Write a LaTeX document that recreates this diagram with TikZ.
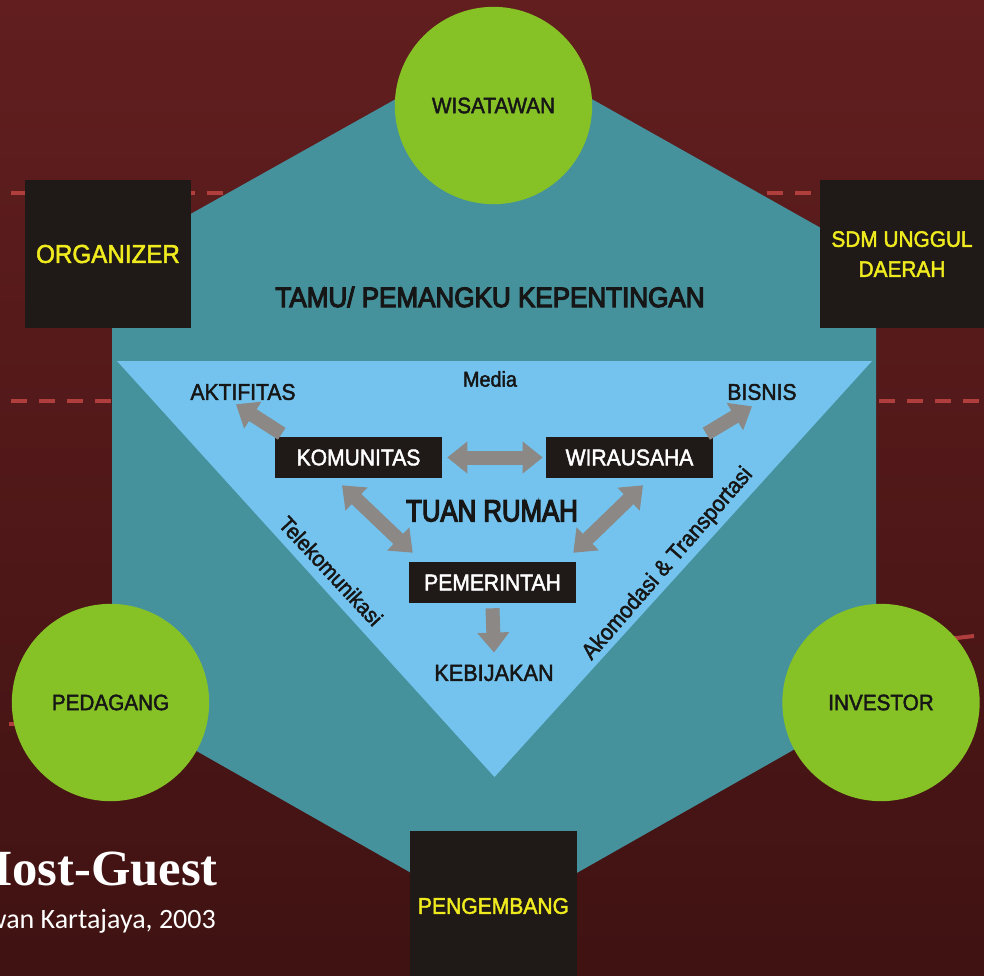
\documentclass[tikz,border=0pt]{standalone}
\usepackage{fontspec}
\setmainfont{Liberation Sans}[FakeStretch=0.93, FakeBold=2]
\newfontfamily\heavyf{Liberation Sans}[FakeStretch=0.93, FakeBold=4]
\newfontfamily\narrowf{Liberation Sans}[FakeStretch=0.84, FakeBold=4]
\newfontfamily\titlefont{Liberation Serif}
\newfontfamily\subfont{Carlito}
\usetikzlibrary{arrows.meta,shapes.geometric}
\definecolor{bgtop}{RGB}{98,30,31}
\definecolor{bgbot}{RGB}{64,18,18}
\definecolor{hexteal}{RGB}{69,146,157}
\definecolor{triblue}{RGB}{115,195,238}
\definecolor{leafgreen}{RGB}{134,194,38}
\definecolor{boxblack}{RGB}{31,26,23}
\definecolor{textyellow}{RGB}{240,235,30}
\definecolor{arrowgray}{RGB}{140,136,134}
\definecolor{dashred}{RGB}{176,62,60}
\definecolor{labeltext}{RGB}{22,22,22}
\newcommand\fsz[2]{\fontsize{#1}{#2}\selectfont}
\begin{document}
\begin{tikzpicture}[x=0.75pt,y=-0.75pt,
  circ/.style={circle, fill=leafgreen, minimum size=148pt, inner sep=0pt, text=labeltext, font=\fsz{16.7}{20}},
  outbox/.style={rectangle, fill=boxblack, inner sep=0pt, text=textyellow, align=center},
  inbox/.style={rectangle, fill=boxblack, minimum width=125.25pt, minimum height=30.75pt, inner sep=0pt, text=white, font=\fsz{17}{20}},
  lbl/.style={inner sep=0pt, text=labeltext},
  dbl/.style={draw=arrowgray, line width=10.5pt, {Triangle[width=23pt,length=15pt]}-{Triangle[width=23pt,length=15pt]}},
  sgl/.style={draw=arrowgray, line width=10.5pt, -{Triangle[width=23pt,length=15pt]}},
  reddash/.style={draw=dashred, line width=3pt, dash pattern=on 12pt off 9pt}
]
\useasboundingbox (0,0) rectangle (984,975);
\clip (0,0) rectangle (984,975);
\shade[top color=bgtop,bottom color=bgbot] (0,0) rectangle (984,975);
% guide lines
\draw[reddash] (11,193) -- (984,193);
\draw[reddash] (11,401) -- (984,401);
\draw[reddash] (9,724) -- (40,724);
\draw[dashred,line width=3pt] (930,641) -- (974,636);
% hexagon and triangle
\fill[hexteal] (494,44) -- (876,259) -- (876,703) -- (494,920) -- (112,703) -- (112,258) -- cycle;
\fill[triblue] (117,361) -- (872,361) -- (494.5,777) -- cycle;
% outer boxes
\node[outbox, minimum width=124.5pt, minimum height=111pt, font=\fsz{19.5}{22}] (org) at (108,254) {ORGANIZER};
\node[outbox, minimum width=123pt, minimum height=111pt, font=\fsz{16.8}{22.5}] (sdm) at (902,254) {SDM UNGGUL\\DAERAH};
\node[outbox, minimum width=125.25pt, minimum height=112.5pt, font=\fsz{17}{20}] (peng) at (493.5,906) {PENGEMBANG};
% circles
\node[circ] (wis) at (493.5,105.5) {WISATAWAN};
\node[circ] (ped) at (110.5,702.5) {PEDAGANG};
\node[circ] (inv) at (881,702.5) {INVESTOR};
% labels
\node[lbl, font=\heavyf\fsz{21}{24}] (tamu) at (490,297) {TAMU/ PEMANGKU KEPENTINGAN};
\node[lbl, font=\fsz{16}{19}] (media) at (490,379) {Media};
\node[lbl, font=\fsz{17}{20}] (akt) at (243,392) {AKTIFITAS};
\node[lbl, font=\fsz{17}{20}] (bis) at (762,392) {BISNIS};
\node[lbl, font=\narrowf\fsz{23}{26}] (tuan) at (492,511) {TUAN RUMAH};
\node[lbl, font=\fsz{17.5}{20}] (keb) at (494,673) {KEBIJAKAN};
\node[lbl, font=\fsz{16.5}{20}, rotate=-47] (tele) at (331,571) {Telekomunikasi};
\node[lbl, font=\fsz{17}{20}, rotate=49] (akom) at (668,564) {Akomodasi \& Transportasi};
% inner boxes
\node[inbox] (kom) at (358.5,457.5) {KOMUNITAS};
\node[inbox] (wir) at (629.5,457.5) {WIRAUSAHA};
\node[inbox] (pem) at (492.5,582.5) {PEMERINTAH};
% arrows
\draw[dbl] ([xshift=3.75pt]kom.east) -- ([xshift=-2.25pt]wir.west);
\draw[dbl] ([shift={(-16.5,7)}]kom.south) -- ([shift={(4,-9)}]pem.north west);
\draw[dbl] ([shift={(13.5,7)}]wir.south) -- ([shift={(-3,-9)}]pem.north east);
\draw[sgl] ([yshift=-3.75pt]pem.south) -- ([yshift=9pt]keb.north);
\draw[sgl] ([shift={(7,-3)}]kom.north west) -- ([shift={(-7,4)}]akt.south);
\draw[sgl] ([shift={(-7,-3)}]wir.north east) -- ([shift={(-10,6)}]bis.south);
% title
\node[inner sep=0pt, anchor=base east, text=white, font=\titlefont\bfseries\fsz{38}{44}] (title) at (218,885) {Host-Guest};
\node[inner sep=0pt, anchor=base east, text=white, font=\subfont\fsz{21}{25}] (sub) at (216,928) {Hermawan Kartajaya, 2003};
\end{tikzpicture}
\end{document}
